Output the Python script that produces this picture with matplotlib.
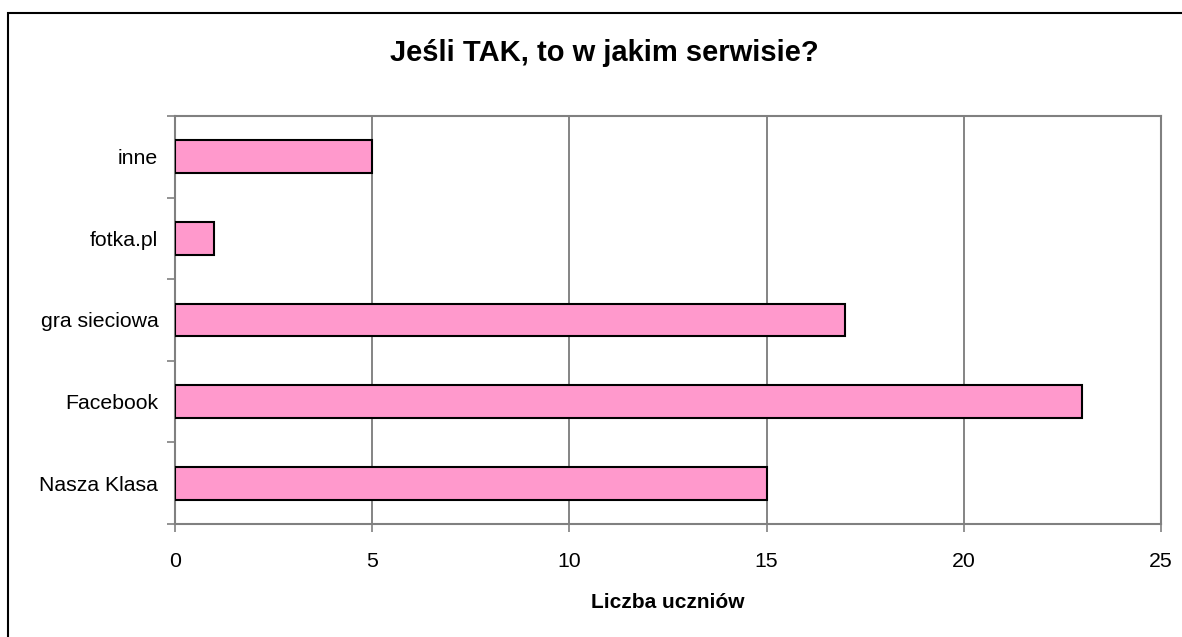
import matplotlib.pyplot as plt
from matplotlib.patches import Rectangle
import numpy as np

plt.rcParams['font.family'] = ['Liberation Sans', 'DejaVu Sans']

categories = ['Nasza Klasa', 'Facebook', 'gra sieciowa', 'fotka.pl', 'inne']
values = [15, 23, 17, 1, 5]
xticks = [0, 5, 10, 15, 20, 25]

W, H = 1182, 637
fig = plt.figure(figsize=(W / 100, H / 100), dpi=100)
ax = fig.add_axes([175 / W, 1 - 524 / H, (1161 - 175) / W, (524 - 116) / H])

# outer chart border (runs off the right and bottom edge)
fig.patches.append(Rectangle((8 / W, -0.1), 1.2, 1 - 13 / H + 0.1, transform=fig.transFigure,
                             fill=False, edgecolor='black', linewidth=1.5))

y = np.arange(len(categories))
ax.barh(y, values, height=0.4, color='#FF99CC', edgecolor='black', linewidth=1.5, zorder=3)

ax.set_xlim(0, 25)
ax.set_ylim(-0.5, len(categories) - 0.5)
ax.set_xticks(xticks)
ax.set_xticklabels([str(v) for v in xticks])
ax.set_yticks(y)
ax.set_yticklabels(categories)
ax.set_yticks(np.arange(-0.5, len(categories), 1), minor=True)

ax.tick_params(axis='y', which='major', length=0, pad=12, labelsize=15.3)
ax.tick_params(axis='y', which='minor', length=6, direction='out', color='#808080', width=1.2)
ax.tick_params(axis='x', length=6, direction='out', color='#808080', width=1.2, pad=14, labelsize=15.3)

ax.grid(axis='x', color='#707070', linewidth=1.2, zorder=0)
for s in ax.spines.values():
    s.set_color('#808080')
    s.set_linewidth(1.5)

fig.text(604 / W, 1 - 53 / H, 'Jeśli TAK, to w jakim serwisie?', ha='center', va='center',
         fontsize=21, fontweight='bold')
fig.text(668 / W, 1 - 602 / H, 'Liczba uczniów', ha='center', va='center',
         fontsize=15, fontweight='bold')

fig.savefig('out.png', dpi=100)
